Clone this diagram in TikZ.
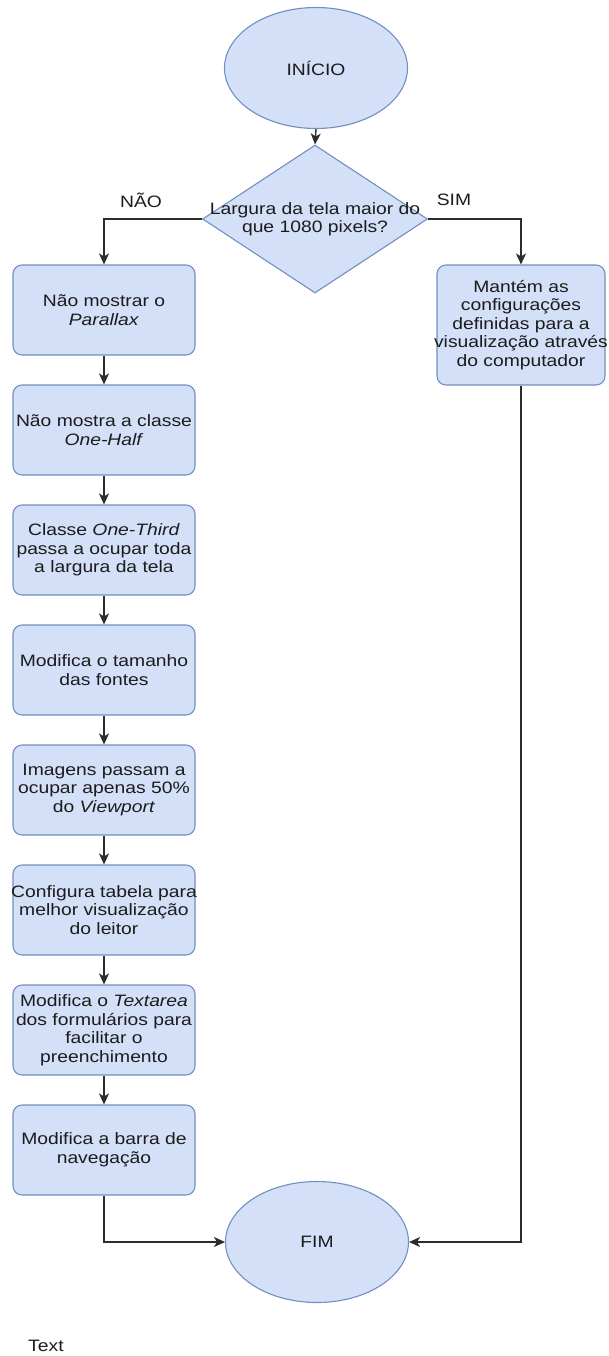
\documentclass[tikz,border=0pt]{standalone}
\usepackage{fontspec}
\setmainfont{Liberation Sans}[FakeStretch=1.17]
\usetikzlibrary{shapes.geometric,arrows.meta}
\definecolor{boxfill}{HTML}{D3E0F8}
\definecolor{boxline}{HTML}{7090C0}
\definecolor{wire}{HTML}{2C2C2C}
\definecolor{ink}{HTML}{1C1C1C}
\begin{document}
\begin{tikzpicture}[x=1pt,y=-1pt,
  font=\fontsize{16.5}{18.5}\selectfont,
  shapebase/.style={draw=boxline, fill=boxfill, line width=1.1pt, inner sep=0pt, text=ink},
  stepbox/.style={shapebase, rectangle, rounded corners=9pt, minimum width=182pt, minimum height=90pt},
  terminal/.style={shapebase, ellipse, minimum width=183pt, minimum height=121pt},
  decision/.style={shapebase, diamond, minimum width=225pt, minimum height=148pt},
  txt/.style={align=center, inner sep=0pt, text=ink},
  flow/.style={draw=wire, line width=1.4pt, -{Stealth[length=11pt,width=10pt,inset=3pt]}},
]
\useasboundingbox (0,0) rectangle (608,1356);

% start / end
\node[terminal] (start) at (316,68) {INÍCIO};
\node[terminal] (fim) at (317,1242) {FIM};

% decision
\node[decision, label={[txt]center:{Largura da tela maior do\\que 1080 pixels?}}] (dec) at (315,219) {};

% branch labels
\node[txt] (nao) at (141,200) {NÃO};
\node[txt] (sim) at (454,200) {SIM};

% "yes" branch
\node[stepbox, minimum width=168pt, minimum height=120pt,
  label={[txt]center:{Mantém as\\configurações\\definidas para a\\visualização através\\do computador}}] (keep) at (521,325) {};

% "no" branch steps
\node[stepbox, label={[txt]center:{Não mostrar o\\\textit{Parallax}}}] (b1) at (104,310) {};
\node[stepbox, label={[txt]center:{Não mostra a classe\\\textit{One-Half}}}] (b2) at (104,430) {};
\node[stepbox, label={[txt]center:{Classe \textit{One-Third}\\passa a ocupar toda\\a largura da tela}}] (b3) at (104,550) {};
\node[stepbox, label={[txt]center:{Modifica o tamanho\\das fontes}}] (b4) at (104,670) {};
\node[stepbox, label={[txt]center:{Imagens passam a\\ocupar apenas 50\%\\do \textit{Viewport}}}] (b5) at (104,790) {};
\node[stepbox, label={[txt]center:{Configura tabela para\\melhor visualização\\do leitor}}] (b6) at (104,910) {};
\node[stepbox, label={[txt]center:{Modifica o \textit{Textarea}\\dos formulários para\\facilitar o\\preenchimento}}] (b7) at (104,1030) {};
\node[stepbox, label={[txt]center:{Modifica a barra de\\navegação}}] (b8) at (104,1150) {};

% stray caption
\node[txt, anchor=base west] (cap) at (28,1351) {Text};

% connectors
\draw[flow] (start.south) -- (dec.north);
\draw[flow] (dec.west) -| (b1.north);
\draw[flow] (dec.east) -| (keep.north);
\draw[flow] (b1) -- (b2);
\draw[flow] (b2) -- (b3);
\draw[flow] (b3) -- (b4);
\draw[flow] (b4) -- (b5);
\draw[flow] (b5) -- (b6);
\draw[flow] (b6) -- (b7);
\draw[flow] (b7) -- (b8);
\draw[flow] (b8.south) |- (fim.west);
\draw[flow] (keep.south) |- (fim.east);
\end{tikzpicture}
\end{document}
